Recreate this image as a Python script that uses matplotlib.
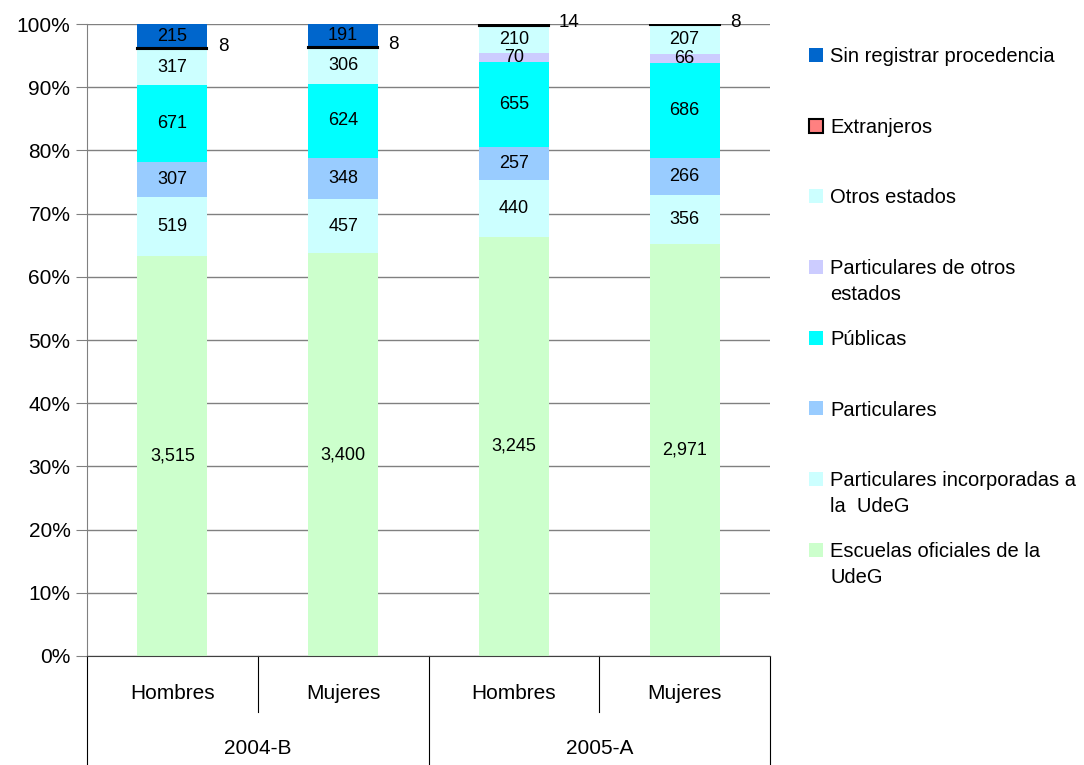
import numpy as np
import matplotlib
matplotlib.use('Agg')
import matplotlib.pyplot as plt
from matplotlib.patches import Rectangle
from matplotlib.transforms import blended_transform_factory

# bar categories (bottom-level labels) and their groups
genders = ['Hombres', 'Mujeres', 'Hombres', 'Mujeres']
periods = ['2004-B', '2005-A']

# series, bottom to top of each stack
escuelas_oficiales = [3515, 3400, 3245, 2971]
part_incorporadas = [519, 457, 440, 356]
particulares = [307, 348, 257, 266]
publicas = [671, 624, 655, 686]
part_otros_estados = [0, 0, 70, 66]
otros_estados = [317, 306, 210, 207]
extranjeros = [8, 8, 14, 8]
sin_registrar = [215, 191, 0, 0]

series = [
    ('Escuelas oficiales de la\nUdeG', escuelas_oficiales, '#CCFFCC'),
    ('Particulares incorporadas a\nla  UdeG', part_incorporadas, '#CCFFFF'),
    ('Particulares', particulares, '#99CCFF'),
    ('Públicas', publicas, '#00FFFF'),
    ('Particulares de otros\nestados', part_otros_estados, '#CCCCFF'),
    ('Otros estados', otros_estados, '#CCFFFF'),
    ('Extranjeros', extranjeros, '#FF8080'),
    ('Sin registrar procedencia', sin_registrar, '#0066CC'),
]

narrow = ['Liberation Sans Narrow', 'Liberation Sans', 'DejaVu Sans']
plt.rcParams['font.family'] = ['Liberation Sans', 'DejaVu Sans']

data = np.array([s[1] for s in series], dtype=float)
totals = data.sum(axis=0)
pct = data / totals * 100

W, H = 1084, 765
fig = plt.figure(figsize=(W / 100, H / 100), dpi=100)
ax = fig.add_axes([0.0803, 0.1425, 0.630, 0.8261])

x = np.arange(len(genders))
width = 0.41
bottom = np.zeros(len(genders))
for i, (name, vals, color) in enumerate(series):
    if name == 'Extranjeros':
        ax.bar(x, pct[i], width, bottom=bottom, color=color,
               edgecolor='black', linewidth=1.5, zorder=3)
    else:
        ax.bar(x, pct[i], width, bottom=bottom, color=color,
               linewidth=0, zorder=2)
    for j in range(len(genders)):
        if vals[j] == 0:
            continue
        ymid = bottom[j] + pct[i][j] / 2
        if name == 'Extranjeros':
            ax.text(x[j] + width / 2 + 0.06, ymid + 0.4, f'{vals[j]:,}',
                    ha='left', va='center', fontsize=13.5, family=narrow)
        else:
            ax.text(x[j], ymid, f'{vals[j]:,}', ha='center', va='center',
                    fontsize=13, family=narrow, zorder=4)
    bottom += pct[i]

ax.set_xlim(-0.5, 3.5)
ax.set_ylim(0, 100)
ax.set_yticks(np.arange(0, 101, 10))
ax.set_yticklabels([f'{v}%' for v in range(0, 101, 10)], fontsize=15,
                   family=narrow)
ax.yaxis.grid(True, color='#808080', linewidth=1)
ax.set_axisbelow(True)
ax.tick_params(axis='y', length=8, color='#808080', pad=4)
ax.tick_params(axis='x', length=0, labelbottom=False)
for s in ['top', 'right']:
    ax.spines[s].set_visible(False)
ax.spines['left'].set_color('#808080')
ax.spines['bottom'].set_color('#404040')

# two-level category axis below the plot
tr = blended_transform_factory(ax.transData, ax.transAxes)
ax_h = 0.8261 * 7.65
def frac(px):
    return -px / 100 / ax_h

for xb in [-0.5, 1.5, 3.5]:
    ax.plot([xb, xb], [0, frac(115)], transform=tr, color='black',
            linewidth=0.8, clip_on=False)
for xb in [0.5, 2.5]:
    ax.plot([xb, xb], [0, frac(56)], transform=tr, color='black',
            linewidth=0.8, clip_on=False)
for j, g in enumerate(genders):
    ax.text(x[j], frac(38), g, transform=tr, ha='center', va='center',
            fontsize=15, family=narrow)
for k, p in enumerate(periods):
    ax.text(2 * k + 0.5, frac(93), p, transform=tr, ha='center', va='center',
            fontsize=15, family=narrow)

# legend: handle aligned with first line of each label, reversed order
for i, (name, vals, color) in enumerate(series[::-1]):
    yc = 55 + i * 70.7
    ec = 'black' if name == 'Extranjeros' else 'none'
    lw = 1.5 if name == 'Extranjeros' else 0
    fig.patches.append(Rectangle((809 / W, 1 - (yc + 7) / H), 14 / W, 14 / H,
                                 transform=fig.transFigure, facecolor=color,
                                 edgecolor=ec, linewidth=lw))
    fig.text(830 / W, 1 - (yc - 8) / H, name, ha='left', va='top',
             fontsize=14.5, linespacing=1.45)

fig.savefig('out.png', dpi=100)
